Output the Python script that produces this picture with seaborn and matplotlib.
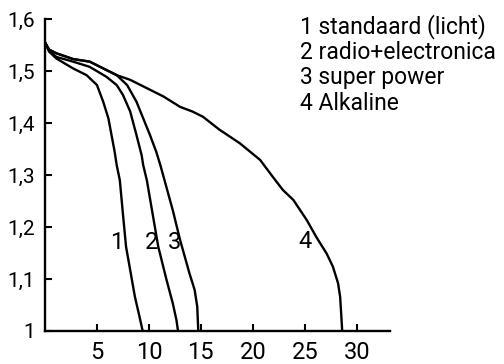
import matplotlib
matplotlib.use('Agg')
import matplotlib.pyplot as plt
import seaborn as sns

# discharge curves (hours vs volts)
x_std = [0, 0.4, 1.1, 2.7, 4.0, 5.0, 5.6, 6.1, 6.4, 6.7, 6.9, 7.2, 7.5, 7.8, 8.2, 8.65, 9.1, 9.4]
y_std = [1.555, 1.537, 1.524, 1.505, 1.492, 1.473, 1.441, 1.409, 1.377, 1.345, 1.319, 1.29, 1.225, 1.162,
         1.117, 1.066, 1.027, 1.0]

x_radio = [0, 0.4, 1.1, 2.7, 4.3, 5.9, 6.9, 7.5, 8.2, 8.8, 9.3, 9.45, 9.8, 10.9, 11.7, 12.3, 12.65, 12.8]
y_radio = [1.555, 1.539, 1.527, 1.518, 1.508, 1.489, 1.473, 1.454, 1.422, 1.377, 1.338, 1.319, 1.29, 1.162,
           1.098, 1.053, 1.021, 1.0]

x_super = [0, 0.4, 1.1, 2.7, 4.3, 5.9, 6.9, 7.9, 8.8, 9.45, 10.1, 10.7, 11.1, 11.5, 12.3, 13.0, 13.9, 14.4,
           14.65, 14.75]
y_super = [1.555, 1.541, 1.534, 1.523, 1.518, 1.502, 1.492, 1.473, 1.441, 1.409, 1.377, 1.345, 1.319, 1.29,
           1.232, 1.175, 1.111, 1.079, 1.047, 1.0]

x_alk = [0, 0.4, 1.1, 2.7, 4.3, 5.9, 6.9, 8.2, 9.8, 11.4, 13.0, 14.2, 15.2, 16.8, 18.75, 20.7, 21.9, 22.9,
         23.9, 25.2, 26.1, 27.1, 27.7, 28.2, 28.4, 28.5, 28.6]
y_alk = [1.555, 1.541, 1.534, 1.523, 1.518, 1.502, 1.492, 1.483, 1.467, 1.451, 1.431, 1.422, 1.412, 1.387,
         1.361, 1.329, 1.297, 1.271, 1.252, 1.213, 1.181, 1.149, 1.124, 1.092, 1.066, 1.034, 1.0]

curve_labels = ['1', '2', '3', '4']
label_x = [6.9, 10.3, 12.5, 25.0]
label_y = [1.17, 1.17, 1.17, 1.172]

legend_lines = ['1 standaard (licht)', '2 radio+electronica', '3 super power', '4 Alkaline']

x_ticks = [5, 10, 15, 20, 25, 30]
y_ticks = [1.0, 1.1, 1.2, 1.3, 1.4, 1.5, 1.6]
y_ticklabels = ['1', '1,1', '1,2', '1,3', '1,4', '1,5', '1,6']

sns.set_style('white')
plt.rcParams['font.family'] = ['Roboto', 'DejaVu Sans']
plt.rcParams['text.color'] = 'black'

fig = plt.figure(figsize=(5.04, 3.64), dpi=100)
ax = fig.add_axes([45 / 504, 33 / 364, 345 / 504, 312 / 364])

for xs, ys in [(x_std, y_std), (x_radio, y_radio), (x_super, y_super), (x_alk, y_alk)]:
    sns.lineplot(x=xs, y=ys, sort=False, estimator=None, color='black', linewidth=1.7,
                 solid_joinstyle='round', ax=ax)

for lab, lx, ly in zip(curve_labels, label_x, label_y):
    ax.text(lx, ly, lab, fontsize=17, ha='center', va='center', color='black')

ax.set_xlim(0, 33.2)
ax.set_ylim(1.0, 1.6)
ax.set_xticks(x_ticks)
ax.set_xticklabels([str(t) for t in x_ticks])
ax.set_yticks(y_ticks)
ax.set_yticklabels(y_ticklabels)
# seaborn's white style hides the tick marks, bring them back (inward)
ax.tick_params(bottom=True, left=True, direction='in', length=5, width=1.5, colors='black')
ax.tick_params(axis='x', pad=7, labelsize=17)
ax.tick_params(axis='y', pad=7, labelsize=15)

sns.despine(ax=ax)
for s in ['left', 'bottom']:
    ax.spines[s].set_linewidth(1.7)
    ax.spines[s].set_color('black')

# legend as plain text block, top right
for i, line in enumerate(legend_lines):
    fig.text(300 / 504, 1 - (33 + 25.7 * i) / 364, line, fontsize=16.5, ha='left', va='baseline')

fig.savefig('out.png', dpi=100)
